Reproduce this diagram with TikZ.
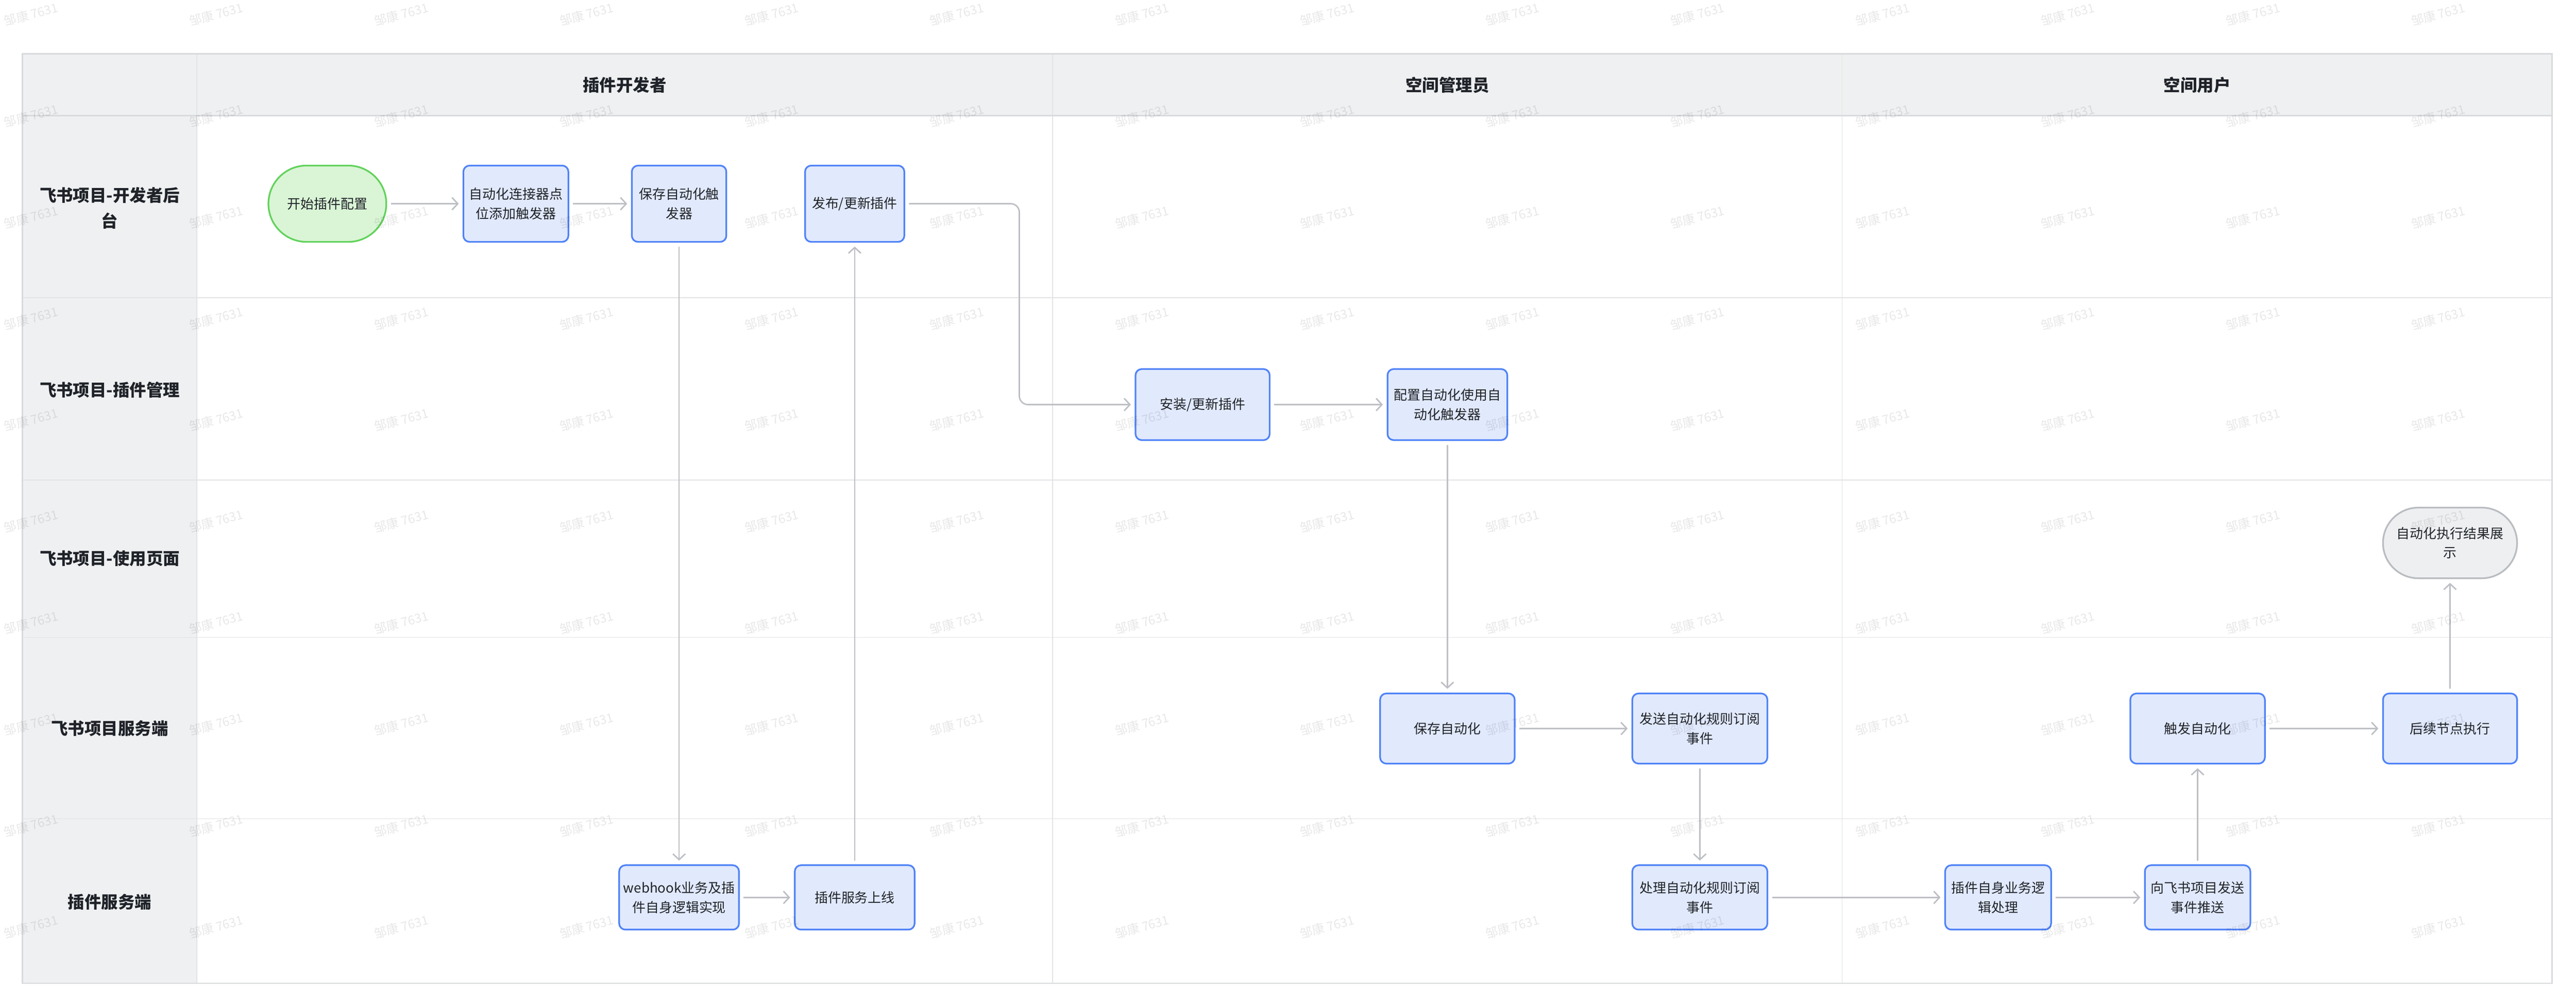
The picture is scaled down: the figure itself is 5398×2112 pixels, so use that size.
\documentclass[tikz,border=0pt]{standalone}
\usepackage{fontspec}
\setmainfont{Noto Sans CJK SC}
\usetikzlibrary{arrows.meta}
\definecolor{hdrfill}{RGB}{239,240,241}
\definecolor{gridline}{RGB}{226,227,230}
\definecolor{outerline}{RGB}{216,218,221}
\definecolor{boxblue}{RGB}{80,131,247}
\definecolor{boxfill}{RGB}{225,233,253}
\definecolor{greenline}{RGB}{98,210,92}
\definecolor{greenfill}{RGB}{217,245,213}
\definecolor{endline}{RGB}{185,188,192}
\definecolor{endfill}{RGB}{238,239,241}
\definecolor{conncol}{RGB}{189,191,196}
\definecolor{txtcol}{RGB}{31,35,41}
\begin{document}
\begin{tikzpicture}[x=1pt,y=-1pt,
  boxnode/.style={draw=boxblue,fill=boxfill,line width=3.5pt,rounded corners=13pt,
    text=txtcol,font=\fontsize{28}{41}\selectfont,align=center,inner sep=0pt},
  startnode/.style={draw=greenline,fill=greenfill,line width=3.5pt,rounded corners=80pt,
    text=txtcol,font=\fontsize{28}{41}\selectfont,align=center,inner sep=0pt},
  endnode/.style={draw=endline,fill=endfill,line width=3.5pt,rounded corners=74pt,
    text=txtcol,font=\fontsize{28}{41}\selectfont,align=center,inner sep=0pt},
  lanelabel/.style={text=txtcol,font=\fontsize{35}{54}\selectfont\bfseries,align=center,inner sep=0pt},
  conn/.style={draw=conncol,line width=3pt,shorten <=8pt,shorten >=8pt,
    -{Straight Barb[length=12pt,width=26pt,line width=3pt]}},
  gridl/.style={draw=gridline,line width=2pt},
  wm/.style={rotate=15,text=black,opacity=0.09,font=\fontsize{26}{26}\selectfont,inner sep=0pt}
]
\useasboundingbox (0,0) rectangle (5398,2112);
\fill[white] (0,0) rectangle (5398,2112);
% table backgrounds
\fill[hdrfill] (47,113) rectangle (5348,242);
\fill[hdrfill] (47,242) rectangle (412,2061);
% grid lines
\draw[gridl] (412,113) -- (412,2061);
\draw[gridl] (2206,113) -- (2206,2061);
\draw[gridl] (3860,113) -- (3860,2061);
\draw[gridl] (47,624) -- (5348,624);
\draw[gridl] (47,1006) -- (5348,1006);
\draw[gridl] (47,1336) -- (5348,1336);
\draw[gridl] (47,1716) -- (5348,1716);
\draw[draw=outerline,line width=3pt] (47,242) -- (5348,242);
\draw[draw=outerline,line width=3pt] (47,113) rectangle (5348,2061);
% headers
\node[lanelabel] (h1) at (1309,178) {插件开发者};
\node[lanelabel] (h2) at (3033,178) {空间管理员};
\node[lanelabel] (h3) at (4604,178) {空间用户};
% lane labels
\node[lanelabel] (l1) at (230,436) {飞书项目-开发者后\\台};
\node[lanelabel] (l2) at (230,817) {飞书项目-插件管理};
\node[lanelabel] (l3) at (230,1171) {飞书项目-使用页面};
\node[lanelabel] (l4) at (230,1527) {飞书项目服务端};
\node[lanelabel] (l5) at (230,1891) {插件服务端};
% nodes row 1
\node[startnode,minimum width=247pt,minimum height=160pt] (s) at (686,427) {开始插件配置};
\node[boxnode,minimum width=220pt,minimum height=160pt] (n2) at (1081,427) {自动化连接器点\\位添加触发器};
\node[boxnode,minimum width=198pt,minimum height=160pt] (n3) at (1423,427) {保存自动化触\\发器};
\node[boxnode,minimum width=208pt,minimum height=160pt] (n4) at (1791,427) {发布/更新插件};
% row 2
\node[boxnode,minimum width=281pt,minimum height=149pt] (n5) at (2520,848) {安装/更新插件};
\node[boxnode,minimum width=251pt,minimum height=149pt] (n6) at (3033,848) {配置自动化使用自\\动化触发器};
% row 3
\node[endnode,minimum width=281pt,minimum height=148pt] (n14) at (5134,1138) {自动化执行结果展\\示};
% row 4
\node[boxnode,minimum width=282pt,minimum height=147pt] (n7) at (3033,1527) {保存自动化};
\node[boxnode,minimum width=283pt,minimum height=147pt] (n8) at (3562,1527) {发送自动化规则订阅\\事件};
\node[boxnode,minimum width=282pt,minimum height=147pt] (n12) at (4605,1527) {触发自动化};
\node[boxnode,minimum width=281pt,minimum height=147pt] (n13) at (5134,1527) {后续节点执行};
% row 5
\node[boxnode,minimum width=251pt,minimum height=135pt] (wh) at (1423,1881) {webhook业务及插\\件自身逻辑实现};
\node[boxnode,minimum width=251pt,minimum height=135pt] (n15) at (1791,1881) {插件服务上线};
\node[boxnode,minimum width=283pt,minimum height=135pt] (n9) at (3562,1881) {处理自动化规则订阅\\事件};
\node[boxnode,minimum width=222pt,minimum height=135pt] (n10) at (4187,1881) {插件自身业务逻\\辑处理};
\node[boxnode,minimum width=221pt,minimum height=135pt] (n11) at (4605,1881) {向飞书项目发送\\事件推送};
% connectors
\coordinate (elbow) at (2136,0);
\draw[conn] (s.east) -- (n2.west);
\draw[conn] (n2.east) -- (n3.west);
\draw[conn,rounded corners=18pt] (n4.east) -- (n4.east -| elbow) |- (n5.west);
\draw[conn] (n5.east) -- (n6.west);
\draw[conn] (n3.south) -- (wh.north);
\draw[conn] (wh.east) -- (n15.west);
\draw[conn] (n15.north) -- (n4.south);
\draw[conn] (n6.south) -- (n7.north);
\draw[conn] (n7.east) -- (n8.west);
\draw[conn] (n8.south) -- (n9.north);
\draw[conn] (n9.east) -- (n10.west);
\draw[conn] (n10.east) -- (n11.west);
\draw[conn] (n11.north) -- (n12.south);
\draw[conn] (n12.east) -- (n13.west);
\draw[conn] (n13.north) -- (n14.south);
% watermarks
\foreach \i in {0,...,13} {
  \foreach \j in {0,...,9} {
    \node[wm] at ({65+388*\i},{30+212.5*\j}) {邹康 7631};
  }
}
\end{tikzpicture}
\end{document}
